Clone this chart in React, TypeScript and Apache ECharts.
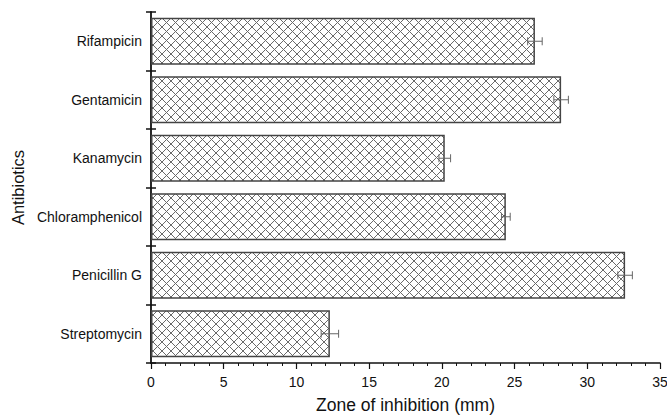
import React, { useEffect, useRef } from "react";
import * as echarts from "echarts";

const categories = ["Streptomycin", "Penicillin G", "Chloramphenicol", "Kanamycin", "Gentamicin", "Rifampicin"];
const values = [12.3, 32.6, 24.4, 20.2, 28.2, 26.4];
const errors = [0.6, 0.5, 0.3, 0.4, 0.5, 0.5];
const xTicks = [0, 5, 10, 15, 20, 25, 30, 35];

function makePattern(): HTMLCanvasElement {
  const c = document.createElement("canvas");
  const s = 9;
  c.width = s;
  c.height = s;
  const ctx = c.getContext("2d")!;
  ctx.fillStyle = "#ffffff";
  ctx.fillRect(0, 0, s, s);
  ctx.strokeStyle = "#6a6a6a";
  ctx.lineWidth = 1;
  ctx.beginPath();
  ctx.moveTo(0, 0);
  ctx.lineTo(s, s);
  ctx.moveTo(s, 0);
  ctx.lineTo(0, s);
  ctx.stroke();
  return c;
}

export default function App() {
  const ref = useRef<HTMLDivElement>(null);
  useEffect(() => {
    if (!ref.current) return;
    const chart = echarts.init(ref.current, null, { renderer: "svg" });
    const pattern = makePattern();
    const font = "Liberation Sans, Arial, sans-serif";
    const errData = categories.map((c, i) => [values[i] - errors[i], values[i] + errors[i], i]);
    chart.setOption({
      animation: false,
      textStyle: { fontFamily: font },
      grid: { left: 151, right: 7, top: 12, bottom: 52, outerBoundsMode: "none", containLabel: false },
      xAxis: {
        type: "value",
        min: xTicks[0],
        max: xTicks[xTicks.length - 1],
        interval: 5,
        name: "Zone of inhibition (mm)",
        nameLocation: "middle",
        nameGap: 33,
        nameTextStyle: { fontSize: 17.5, color: "#111", fontFamily: font },
        axisLine: { show: true, lineStyle: { color: "#111", width: 1.5 } },
        axisTick: { show: true, length: 6, lineStyle: { color: "#111", width: 1.2 } },
        minorTick: { show: true, splitNumber: 5, length: 3, lineStyle: { color: "#111", width: 1 } },
        axisLabel: { fontSize: 14, color: "#111", margin: 12, fontFamily: font },
        splitLine: { show: false },
      },
      yAxis: [
        {
          type: "category",
          data: categories,
          name: "Antibiotics",
          nameLocation: "middle",
          nameGap: 124,
          nameRotate: 90,
          nameTextStyle: { fontSize: 16.5, color: "#111", fontFamily: font },
          axisLine: { show: true, lineStyle: { color: "#111", width: 1.8 } },
          axisTick: { show: true, length: 5, lineStyle: { color: "#111", width: 1.5 } },
          axisLabel: { fontSize: 14, color: "#111", margin: 9, fontFamily: font },
        },
        {
          type: "category",
          data: categories,
          position: "left",
          axisLine: { show: false },
          axisTick: { show: true, inside: true, length: 5, lineStyle: { color: "#111", width: 1.5 } },
          axisLabel: { show: false },
        },
      ],
      series: [
        {
          type: "bar",
          data: values,
          barCategoryGap: "20%",
          itemStyle: {
            color: { image: pattern, repeat: "repeat" },
            borderColor: "#444",
            borderWidth: 1.5,
          },
          z: 2,
        },
        {
          type: "custom",
          data: errData,
          z: 5,
          renderItem: (params: any, api: any) => {
            const lo = api.coord([api.value(0), api.value(2)]);
            const hi = api.coord([api.value(1), api.value(2)]);
            const y = lo[1];
            const h = 4;
            const style = { stroke: "#666", lineWidth: 1 };
            return {
              type: "group",
              children: [
                { type: "line", shape: { x1: lo[0], y1: y, x2: hi[0], y2: y }, style },
                { type: "line", shape: { x1: lo[0], y1: y - h, x2: lo[0], y2: y + h }, style },
                { type: "line", shape: { x1: hi[0], y1: y - h, x2: hi[0], y2: y + h }, style },
              ],
            };
          },
        },
      ],
    });
    return () => chart.dispose();
  }, []);
  return <div ref={ref} style={{ width: 667, height: 415, position: "absolute", left: 0, top: 0, background: "#fff" }} />;
}
